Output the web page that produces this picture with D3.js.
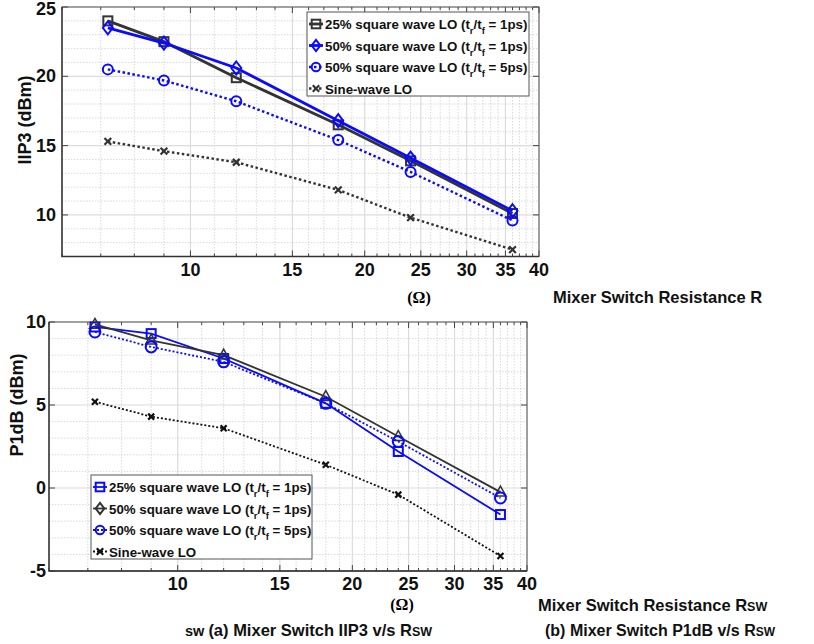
<!DOCTYPE html>
<html>
<head>
<meta charset="utf-8">
<script src="https://cdn.jsdelivr.net/npm/d3@7"></script>
<style>
  body { margin: 0; background: #fff; }
  svg { display: block; font-family: "Liberation Sans", Arial, sans-serif; }
  .tick-label { font-weight: bold; font-size: 18px; fill: #111; }
  .legend-text { font-weight: bold; font-size: 13.3px; fill: #111; }
</style>
</head>
<body>
<svg id="chart" width="814" height="644"></svg>
<script>
// switch resistance (ohm) for each measured point
const rsw = [7.2, 9, 12, 18, 24, 36];
const xTicks = [10, 15, 20, 25, 30, 35, 40];

// (a) IIP3 in dBm
const iip3Sq25 = [24.0, 22.5, 19.9, 16.5, 13.9, 10.1];
const iip3Sq50 = [23.5, 22.4, 20.6, 16.8, 14.1, 10.3];
const iip3Sq50Slow = [20.5, 19.7, 18.2, 15.4, 13.1, 9.6];
const iip3Sine = [15.3, 14.6, 13.8, 11.8, 9.8, 7.5];
const iip3Ticks = [10, 15, 20, 25];

// (b) P1dB in dBm
const p1dbSq25 = [9.7, 9.3, 7.8, 5.1, 2.2, -1.6];
const p1dbSq50 = [9.85, 8.9, 8.0, 5.5, 3.1, -0.25];
const p1dbSq50Slow = [9.4, 8.5, 7.6, 5.1, 2.8, -0.6];
const p1dbSine = [5.2, 4.3, 3.6, 1.4, -0.4, -4.1];
const p1dbTicks = [-5, 0, 5, 10];

const legendNames = [
  ["25% square wave LO (t", "r", "/t", "f", " = 1ps)"],
  ["50% square wave LO (t", "r", "/t", "f", " = 1ps)"],
  ["50% square wave LO (t", "r", "/t", "f", " = 5ps)"],
  ["Sine-wave LO"]
];

const BLUE = "#0a0aff", DARK = "#333333";
const svg = d3.select("#chart");

function marker(g, type, x, y, color, s) {
  if (type === "square") {
    g.append("rect").attr("x", x - s).attr("y", y - s).attr("width", 2 * s).attr("height", 2 * s)
      .attr("fill", "none").attr("stroke", color).attr("stroke-width", 2);
  } else if (type === "diamond") {
    g.append("path").attr("d", `M${x},${y - s * 1.3}L${x + s},${y}L${x},${y + s * 1.3}L${x - s},${y}Z`)
      .attr("fill", "none").attr("stroke", color).attr("stroke-width", 2);
  } else if (type === "triangle") {
    g.append("path").attr("d", `M${x},${y - s * 1.1}L${x + s},${y + s * 0.7}L${x - s},${y + s * 0.7}Z`)
      .attr("fill", "none").attr("stroke", color).attr("stroke-width", 1.5);
  } else if (type === "circle") {
    g.append("circle").attr("cx", x).attr("cy", y).attr("r", s)
      .attr("fill", "none").attr("stroke", color).attr("stroke-width", 2);
  } else if (type === "x") {
    const k = s * 0.75;
    g.append("path").attr("d", `M${x - k},${y - k}L${x + k},${y + k}M${x - k},${y + k}L${x + k},${y - k}`)
      .attr("stroke", color).attr("stroke-width", 2.2);
  }
}

function panel(cfg) {
  const x = d3.scaleLog().domain([6, 40]).range([cfg.left, cfg.right]);
  const y = d3.scaleLinear().domain(cfg.yDomain).range([cfg.bottom, cfg.top]);
  const g = svg.append("g");

  // minor grid
  const xMinor = d3.range(6, 41).filter(v => !xTicks.includes(v));
  const yMinor = d3.range(cfg.yDomain[0], cfg.yDomain[1] + 1).filter(v => !cfg.yTicks.includes(v));
  g.selectAll(".xminor").data(xMinor).enter().append("line")
    .attr("x1", d => x(d)).attr("x2", d => x(d)).attr("y1", cfg.top).attr("y2", cfg.bottom)
    .attr("stroke", "#cfcfcf").attr("stroke-width", 0.8).attr("stroke-dasharray", "1.5,1.5");
  g.selectAll(".yminor").data(yMinor).enter().append("line")
    .attr("x1", cfg.left).attr("x2", cfg.right).attr("y1", d => y(d)).attr("y2", d => y(d))
    .attr("stroke", "#cfcfcf").attr("stroke-width", 0.8).attr("stroke-dasharray", "1.5,1.5");
  // major grid
  g.selectAll(".xmajor").data(xTicks).enter().append("line")
    .attr("x1", d => x(d)).attr("x2", d => x(d)).attr("y1", cfg.top).attr("y2", cfg.bottom)
    .attr("stroke", "#dcdcdc").attr("stroke-width", 1.2);
  g.selectAll(".ymajor").data(cfg.yTicks).enter().append("line")
    .attr("x1", cfg.left).attr("x2", cfg.right).attr("y1", d => y(d)).attr("y2", d => y(d))
    .attr("stroke", "#dcdcdc").attr("stroke-width", 1.2);

  // ticks (inward)
  const tk = g.append("g").attr("stroke", "#444").attr("stroke-width", 1);
  xTicks.forEach(v => {
    tk.append("line").attr("x1", x(v)).attr("x2", x(v)).attr("y1", cfg.bottom).attr("y2", cfg.bottom - 6);
    tk.append("line").attr("x1", x(v)).attr("x2", x(v)).attr("y1", cfg.top).attr("y2", cfg.top + 6);
  });
  xMinor.forEach(v => {
    tk.append("line").attr("x1", x(v)).attr("x2", x(v)).attr("y1", cfg.bottom).attr("y2", cfg.bottom - 3);
    tk.append("line").attr("x1", x(v)).attr("x2", x(v)).attr("y1", cfg.top).attr("y2", cfg.top + 3);
  });
  cfg.yTicks.forEach(v => {
    tk.append("line").attr("x1", cfg.left).attr("x2", cfg.left + 6).attr("y1", y(v)).attr("y2", y(v));
    tk.append("line").attr("x1", cfg.right).attr("x2", cfg.right - 6).attr("y1", y(v)).attr("y2", y(v));
  });

  // frame
  g.append("rect").attr("x", cfg.left).attr("y", cfg.top)
    .attr("width", cfg.right - cfg.left).attr("height", cfg.bottom - cfg.top)
    .attr("fill", "none").attr("stroke", "#555").attr("stroke-width", 1);
  g.append("path").attr("d", `M${cfg.left},${cfg.top}V${cfg.bottom}H${cfg.right}`)
    .attr("fill", "none").attr("stroke", "#333").attr("stroke-width", 1.3);

  // tick labels
  g.selectAll(".xl").data(xTicks).enter().append("text").attr("class", "tick-label")
    .attr("x", d => x(d)).attr("y", cfg.bottom + 19).attr("text-anchor", "middle").text(d => d);
  g.selectAll(".yl").data(cfg.yTicks).enter().append("text").attr("class", "tick-label")
    .attr("x", cfg.left - cfg.yLabelGap).attr("y", d => Math.max(y(d) + 6, 15))
    .attr("text-anchor", "end").text(d => d);

  g.append("text").attr("transform", `translate(${cfg.yTitleX},${cfg.yTitleY}) rotate(-90)`)
    .attr("text-anchor", "middle").attr("font-weight", "bold").attr("font-size", 18).attr("fill", "#111")
    .text(cfg.yTitle);

  // series
  const line = d3.line().x((d, i) => x(rsw[i])).y(d => y(d));
  cfg.series.forEach(s => {
    g.append("path").datum(s.values).attr("d", line)
      .attr("fill", "none").attr("stroke", s.color).attr("stroke-width", s.width)
      .attr("stroke-dasharray", s.dash || null);
    s.values.forEach((v, i) => marker(g, s.marker, x(rsw[i]), y(v), s.color, s.size));
  });

  // legend
  const lg = g.append("g");
  lg.append("rect").attr("x", cfg.legend.x).attr("y", cfg.legend.y)
    .attr("width", cfg.legend.w).attr("height", cfg.legend.h)
    .attr("fill", "#fff").attr("stroke", "#555").attr("stroke-width", 1);
  legendNames.forEach((parts, i) => {
    const ry = cfg.legend.y + 12 + i * cfg.legend.step;
    const s = cfg.series[i];
    const lx = cfg.legend.x + 9;
    lg.append("line").attr("x1", lx - 7).attr("x2", lx + 7).attr("y1", ry).attr("y2", ry)
      .attr("stroke", s.color).attr("stroke-width", s.width).attr("stroke-dasharray", s.dash || null);
    marker(lg, cfg.legend.markers[i], lx, ry, s.color, 4.3);
    const t = lg.append("text").attr("class", "legend-text").attr("x", lx + 9).attr("y", ry + 5);
    parts.forEach((p, j) => {
      const ts = t.append("tspan").text(p);
      if (j === 1 || j === 3) ts.attr("font-size", 9.5).attr("dy", 5);
      if (j === 2 || j === 4) ts.attr("dy", -5);
    });
  });
  return g;
}

panel({
  left: 62, right: 539, top: 7, bottom: 256.5,
  yDomain: [7, 25], yTicks: iip3Ticks, yLabelGap: 6,
  yTitle: "IIP3 (dBm)", yTitleX: 31, yTitleY: 120,
  series: [
    { values: iip3Sq25, color: DARK, width: 2.8, marker: "square", size: 4.5 },
    { values: iip3Sq50, color: BLUE, width: 2.8, marker: "diamond", size: 5 },
    { values: iip3Sq50Slow, color: BLUE, width: 2.4, dash: "2.5,2.5", marker: "circle", size: 5 },
    { values: iip3Sine, color: DARK, width: 2.4, dash: "2.5,2.5", marker: "x", size: 4.5 }
  ],
  legend: { x: 307, y: 12, w: 222, h: 84, step: 21.5, markers: ["square", "diamond", "circle", "x"] }
});

panel({
  left: 49, right: 527, top: 322, bottom: 571,
  yDomain: [-5, 10], yTicks: p1dbTicks, yLabelGap: 3,
  yTitle: "P1dB (dBm)", yTitleX: 23, yTitleY: 405,
  series: [
    { values: p1dbSq25, color: BLUE, width: 1.8, marker: "square", size: 4.5 },
    { values: p1dbSq50, color: DARK, width: 1.8, marker: "triangle", size: 5.5 },
    { values: p1dbSq50Slow, color: BLUE, width: 1.8, dash: "2,2", marker: "circle", size: 5.5 },
    { values: p1dbSine, color: "#111", width: 1.8, dash: "2,2", marker: "x", size: 4 }
  ],
  legend: { x: 91, y: 475, w: 221, h: 84, step: 21.5, markers: ["square", "diamond", "circle", "x"] }
});

// axis titles and captions
function caption(xp, yp, main, sub, size, pre) {
  const t = svg.append("text").attr("x", xp).attr("y", yp).attr("font-weight", "bold")
    .attr("font-size", size).attr("fill", "#111");
  if (pre) t.append("tspan").attr("font-size", size - 2).text(pre);
  t.append("tspan").text(main);
  if (sub) t.append("tspan").attr("font-size", size - 4).text(sub);
}
svg.append("text").attr("x", 419).attr("y", 303).attr("text-anchor", "middle")
  .attr("font-family", "Liberation Serif, serif").attr("font-weight", "bold").attr("font-size", 16).text("(Ω)");
caption(553, 303, "Mixer Switch Resistance R", null, 16.5);
svg.append("text").attr("x", 402).attr("y", 610).attr("text-anchor", "middle")
  .attr("font-family", "Liberation Serif, serif").attr("font-weight", "bold").attr("font-size", 16).text("(Ω)");
caption(538, 611, "Mixer Switch Resistance R", "SW", 16.5);
caption(185, 636, "(a) Mixer Switch IIP3 v/s R", "SW", 16.5, "sw ");
caption(545, 636, "(b) Mixer Switch P1dB v/s R", "SW", 16);
</script>
</body>
</html>
